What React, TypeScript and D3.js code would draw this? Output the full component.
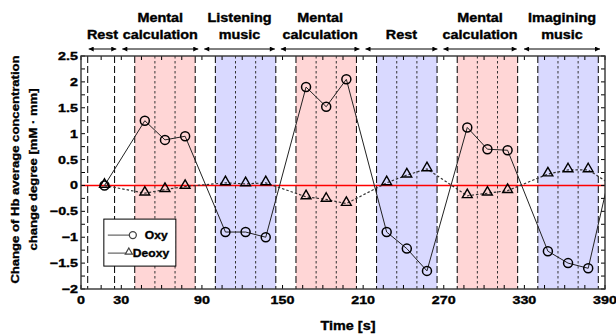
import React, { useEffect, useRef } from 'react';
import * as d3 from 'd3';

// block layout (seconds)
const blockEdges = [5, 25, 40, 85, 100, 145, 160, 205, 220, 265, 280, 325, 340, 385];
const subEdges = [55, 70, 115, 130, 175, 190, 235, 250, 295, 310, 355, 370];
const pinkBlocks: [number, number][] = [[40, 85], [160, 205], [280, 325]];
const blueBlocks: [number, number][] = [[100, 145], [220, 265], [340, 385]];

// header task labels and arrow spans
const taskLines: string[][] = [
  ['Rest'],
  ['Mental', 'calculation'],
  ['Listening', 'music'],
  ['Mental', 'calculation'],
  ['Rest'],
  ['Mental', 'calculation'],
  ['Imagining', 'music'],
];
const taskSpans: [number, number][] = [
  [5, 27], [30, 88], [91, 145], [148, 208], [211, 266], [269, 325], [329, 387],
];

// measurements
const times = [17.5, 47.5, 62.5, 77.5, 107.5, 122.5, 137.5, 167.5, 182.5, 197.5, 227.5, 242.5, 257.5, 287.5, 302.5, 317.5, 347.5, 362.5, 377.5, 407.5];
const oxy = [0, 1.25, 0.88, 0.95, -0.9, -0.9, -1.0, 1.9, 1.52, 2.05, -0.9, -1.22, -1.65, 1.12, 0.7, 0.68, -1.27, -1.5, -1.6, 1.8];
const deoxy = [0, -0.15, -0.08, -0.02, 0.05, 0.03, 0.05, -0.22, -0.27, -0.35, 0.05, 0.2, 0.32, -0.2, -0.15, -0.1, 0.22, 0.3, 0.3, -0.2];

const xTickLabels = [0, 30, 90, 150, 210, 270, 330, 390];
const yTickLabels = [2.5, 2, 1.5, 1, 0.5, 0, -0.5, -1, -1.5, -2];

const FONT = 'Arial, "Liberation Sans", sans-serif';

export default function App() {
  const svgRef = useRef<SVGSVGElement>(null);

  useEffect(() => {
    if (!svgRef.current) return;
    const svg = d3.select(svgRef.current);
    svg.selectAll('*').remove();

    const margin = { top: 56, right: 11, bottom: 47, left: 81 };
    const width = 616;
    const height = 336;
    const innerWidth = width - margin.left - margin.right;
    const innerHeight = height - margin.top - margin.bottom;

    const x = d3.scaleLinear().domain([0, 390]).range([0, innerWidth]);
    const y = d3.scaleLinear().domain([-2, 2.5]).range([innerHeight, 0]);

    svg.append('rect').attr('width', width).attr('height', height).attr('fill', '#fff');

    const defs = svg.append('defs');
    defs.append('clipPath').attr('id', 'plotClip')
      .append('rect').attr('width', innerWidth).attr('height', innerHeight);
    defs.append('marker')
      .attr('id', 'arrowHead')
      .attr('viewBox', '0 0 10 10')
      .attr('refX', 10).attr('refY', 5)
      .attr('markerWidth', 6).attr('markerHeight', 5)
      .attr('markerUnits', 'userSpaceOnUse')
      .attr('orient', 'auto-start-reverse')
      .append('path').attr('d', 'M0,0L10,5L0,10Z').attr('fill', '#000');

    const g = svg.append('g').attr('transform', `translate(${margin.left},${margin.top})`);

    // shaded blocks
    g.selectAll('rect.pink').data(pinkBlocks).enter().append('rect')
      .attr('x', d => x(d[0])).attr('width', d => x(d[1]) - x(d[0]))
      .attr('y', 0).attr('height', innerHeight).attr('fill', '#ffd6d6');
    g.selectAll('rect.blue').data(blueBlocks).enter().append('rect')
      .attr('x', d => x(d[0])).attr('width', d => x(d[1]) - x(d[0]))
      .attr('y', 0).attr('height', innerHeight).attr('fill', '#d9d9ff');

    // block boundaries
    g.selectAll('line.edge').data(blockEdges).enter().append('line')
      .attr('x1', d => x(d)).attr('x2', d => x(d))
      .attr('y1', 0).attr('y2', innerHeight)
      .attr('stroke', '#000').attr('stroke-width', 1).attr('stroke-dasharray', '7,3');
    g.selectAll('line.sub').data(subEdges).enter().append('line')
      .attr('x1', d => x(d)).attr('x2', d => x(d))
      .attr('y1', 0).attr('y2', innerHeight)
      .attr('stroke', '#333').attr('stroke-width', 1).attr('stroke-dasharray', '2.5,2.5');

    // zero line
    g.append('line')
      .attr('x1', 0).attr('x2', innerWidth).attr('y1', Math.round(y(0)) + 0.5).attr('y2', Math.round(y(0)) + 0.5)
      .attr('stroke', '#ff0000').attr('stroke-width', 1.3);

    // frame + ticks
    const xTicks = d3.range(0, 391, 15);
    const yTicks = d3.range(-2, 2.51, 0.25);
    g.selectAll('line.xt').data(xTicks).enter().append('line')
      .attr('x1', d => x(d)).attr('x2', d => x(d))
      .attr('y1', innerHeight).attr('y2', innerHeight - 4)
      .attr('stroke', '#000');
    g.selectAll('line.xtt').data(xTicks).enter().append('line')
      .attr('x1', d => x(d)).attr('x2', d => x(d))
      .attr('y1', 0).attr('y2', 4)
      .attr('stroke', '#000');
    g.selectAll('line.yt').data(yTicks).enter().append('line')
      .attr('x1', 0).attr('x2', 4)
      .attr('y1', d => y(d)).attr('y2', d => y(d))
      .attr('stroke', '#000');
    g.selectAll('line.ytr').data(yTicks).enter().append('line')
      .attr('x1', innerWidth).attr('x2', innerWidth - 4)
      .attr('y1', d => y(d)).attr('y2', d => y(d))
      .attr('stroke', '#000');
    g.append('rect')
      .attr('width', innerWidth).attr('height', innerHeight)
      .attr('fill', 'none').attr('stroke', '#333').attr('stroke-width', 1.4);

    // heavy, slightly widened bold text like the source figure
    const stretched = (sel: any, tx: number, ty: number, sx: number, anchor: string, txt: string, size: number) =>
      sel.append('text')
        .attr('transform', `translate(${tx},${ty}) scale(${sx},1)`)
        .attr('text-anchor', anchor)
        .attr('font-family', FONT)
        .attr('font-weight', 'bold')
        .style('font-size', `${size}px`)
        .attr('fill', '#000')
        .attr('stroke', '#000')
        .attr('stroke-width', 0.35)
        .text(txt);

    xTickLabels.forEach(v => stretched(g, x(v), innerHeight + 15, 1.3, 'middle', String(v), 11));
    yTickLabels.forEach(v => stretched(g, -3, y(v) + 4, 1.3, 'end', String(v).replace('-', '\u2212'), 11));

    // series
    const pts = times.map((t, i) => ({ t, oxy: oxy[i], deoxy: deoxy[i] }));
    const plot = g.append('g').attr('clip-path', 'url(#plotClip)');

    plot.append('path')
      .attr('d', d3.line<any>().x(d => x(d.t)).y(d => y(d.deoxy))(pts) as string)
      .attr('fill', 'none').attr('stroke', '#333').attr('stroke-width', 1.2)
      .attr('stroke-dasharray', '2.5,2');
    plot.append('path')
      .attr('d', d3.line<any>().x(d => x(d.t)).y(d => y(d.oxy))(pts) as string)
      .attr('fill', 'none').attr('stroke', '#222').attr('stroke-width', 1);

    const tri = d3.symbol(d3.symbolTriangle).size(42)();
    plot.selectAll('path.tri').data(pts).enter().append('path')
      .attr('d', tri as string)
      .attr('transform', d => `translate(${x(d.t)},${y(d.deoxy) - 1})`)
      .attr('fill', 'none').attr('stroke', '#000').attr('stroke-width', 1.4);
    plot.selectAll('circle.oxy').data(pts).enter().append('circle')
      .attr('cx', d => x(d.t)).attr('cy', d => y(d.oxy)).attr('r', 4.5)
      .attr('fill', 'none').attr('stroke', '#000').attr('stroke-width', 1.5);

    // legend
    const lg = g.append('g').attr('transform', `translate(${x(17)},${y(-0.65)})`);
    lg.append('rect').attr('width', 72).attr('height', 47)
      .attr('fill', '#fff').attr('stroke', '#000').attr('stroke-width', 1);
    lg.append('line').attr('x1', 4).attr('x2', 26).attr('y1', 16).attr('y2', 16).attr('stroke', '#444');
    lg.append('circle').attr('cx', 29).attr('cy', 16).attr('r', 3.5)
      .attr('fill', '#fff').attr('stroke', '#444').attr('stroke-width', 1.3);
    stretched(lg, 41, 20, 1.1, 'start', 'Oxy', 11);
    lg.append('line').attr('x1', 4).attr('x2', 22).attr('y1', 34).attr('y2', 34).attr('stroke', '#444');
    lg.append('path').attr('d', d3.symbol(d3.symbolTriangle).size(22)() as string)
      .attr('transform', 'translate(25,33)')
      .attr('fill', '#fff').attr('stroke', '#444').attr('stroke-width', 1.2);
    stretched(lg, 29, 38, 1.1, 'start', 'Deoxy', 11);

    // header arrows and labels
    taskSpans.forEach((s, i) => {
      svg.append('line')
        .attr('x1', margin.left + x(s[0]) + 1).attr('x2', margin.left + x(s[1]) - 1)
        .attr('y1', 49).attr('y2', 49)
        .attr('stroke', '#000').attr('stroke-width', 1)
        .attr('marker-start', 'url(#arrowHead)')
        .attr('marker-end', 'url(#arrowHead)');
      const cx = margin.left + x((s[0] + s[1]) / 2);
      const lines = taskLines[i];
      lines.forEach((t, j) => {
        const yy = lines.length === 1 ? 39 : 22 + j * 17;
        stretched(svg, cx, yy, 1.2, 'middle', t, 12);
      });
    });

    // axis titles
    stretched(svg, margin.left + innerWidth / 2 + 5, 330, 1.15, 'middle', 'Time [s]', 12.5);
    const yt = svg.append('g').attr('transform', `translate(0,${margin.top + innerHeight / 2}) rotate(-90)`);
    stretched(yt, 3, 19, 1.19, 'middle', 'Change of Hb average concentration', 11);
    stretched(yt, 3, 37, 1.19, 'middle', 'change degree [mM \u00b7 mm]', 11);
  }, []);

  return (
    <svg
      ref={svgRef}
      width={616}
      height={336}
      style={{ position: 'absolute', left: 0, top: 0, display: 'block' }}
    />
  );
}
